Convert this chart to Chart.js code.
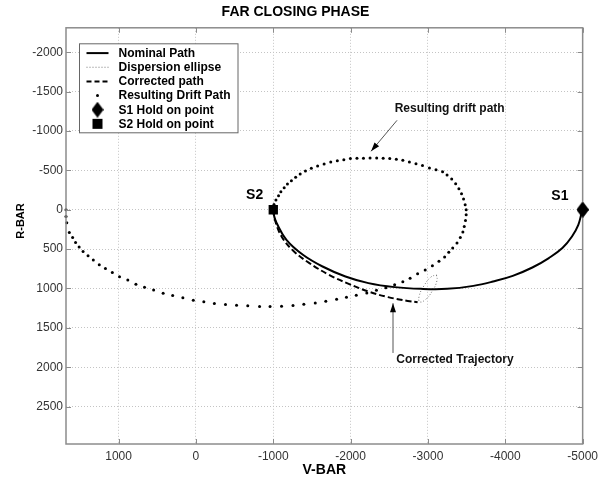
<!DOCTYPE html>
<html>
<head>
<meta charset="utf-8">
<script src="https://cdn.jsdelivr.net/npm/chart.js@4.4.0/dist/chart.umd.min.js"></script>
<style>
  html, body { margin: 0; padding: 0; background: #fff; }
</style>
</head>
<body>
<canvas id="far-canvas" width="603" height="479"></canvas>
<script>
const chartTitle = "FAR CLOSING PHASE";
const xTicks = [1000, 0, -1000, -2000, -3000, -4000, -5000];
const yTicks = [-2000, -1500, -1000, -500, 0, 500, 1000, 1500, 2000, 2500];

// nominal path S2 -> S1
const nomX = [-1000, -1010, -1043, -1170, -1383, -1637, -1933, -2230, -2569, -2909, -3247, -3587, -3841, -4096, -4350, -4563, -4738, -4862, -4944, -4986, -5000];
const nomY = [0, 76, 169, 382, 572, 721, 848, 932, 983, 1005, 1005, 967, 912, 840, 734, 614, 487, 340, 191, 42, 0];

// corrected path from S2
const corX = [-1000, -1021, -1107, -1255, -1467, -1721, -1975, -2230, -2484, -2739, -2866];
const corY = [0, 127, 340, 518, 678, 827, 941, 1039, 1110, 1158, 1174];

// dispersion ellipse (closed)
const ellX = [-3110, -3116, -3055, -2964, -2894, -2887, -2949, -3040, -3110];
const ellY = [828, 902, 1033, 1144, 1169, 1095, 965, 854, 828];

// resulting drift path dots
const driftX = [1680, 1680, 1670, 1637, 1594, 1556, 1510, 1459, 1395, 1327, 1250, 1170, 1081, 988, 881, 776, 665, 547, 424, 301,
  169, 34, -102, -238, -382, -525, -670, -823, -958, -1107, -1255, -1395, -1543, -1679, -1819, -1946, -2073, -2209, -2334, -2455,
  -2569, -2675, -2769, -2866, -2964, -3057, -3142, -3215, -3269, -3320, -3375, -3418, -3451, -3469, -3485, -3494, -3494, -3481, -3460, -3434,
  -3400, -3358, -3307, -3247, -3189, -3104, -3019, -2929, -2845, -2760, -2675, -2591, -2506, -2421, -2337, -2251, -2166, -2082, -1997, -1912,
  -1828, -1743, -1657, -1573, -1492, -1416, -1348, -1289, -1234, -1183, -1141, -1098, -1068, -1034, -1009];
const driftY = [0, 85, 165, 289, 352, 416, 474, 530, 585, 640, 700, 747, 798, 852, 894, 945, 983, 1021, 1060, 1090,
  1119, 1149, 1170, 1192, 1205, 1212, 1221, 1230, 1230, 1225, 1217, 1200, 1183, 1161, 1136, 1110, 1085, 1056, 1024, 992,
  954, 916, 869, 814, 767, 712, 653, 600, 541, 487, 424, 352, 284, 212, 136, 64, 0, -64, -136, -204,
  -267, -331, -391, -441, -483, -509, -530, -560, -585, -607, -627, -640, -649, -653, -658, -658, -653, -653, -649, -636,
  -623, -607, -581, -556, -525, -492, -454, -411, -369, -327, -280, -229, -178, -123, -67];

// hold points
const s1Point = [-5000, 0];
const s2Point = [-1000, 0];

const FONT = "'Liberation Sans', Arial, Helvetica, sans-serif";
var farChart;
var diamondImg;

function toPoints(xs, ys) {
  return xs.map((x, i) => ({ x: x, y: ys[i] }));
}

function makeDiamond() {
  const c = document.createElement('canvas');
  c.width = 12;
  c.height = 16;
  const g = c.getContext('2d');
  g.fillStyle = '#000';
  g.beginPath();
  g.moveTo(6, 0);
  g.lineTo(12, 8);
  g.lineTo(6, 16);
  g.lineTo(0, 8);
  g.closePath();
  g.fill();
  return c;
}

function line(ctx, x1, y1, x2, y2) {
  ctx.beginPath();
  ctx.moveTo(x1, y1);
  ctx.lineTo(x2, y2);
  ctx.stroke();
}

function arrow(ctx, x1, y1, x2, y2) {
  // line from (x1,y1) with head at (x2,y2)
  ctx.strokeStyle = '#555';
  ctx.lineWidth = 1;
  line(ctx, x1, y1, x2, y2);
  const a = Math.atan2(y2 - y1, x2 - x1);
  const len = 9, half = 3;
  ctx.fillStyle = '#000';
  ctx.beginPath();
  ctx.moveTo(x2, y2);
  ctx.lineTo(x2 - len * Math.cos(a) + half * Math.sin(a), y2 - len * Math.sin(a) - half * Math.cos(a));
  ctx.lineTo(x2 - len * Math.cos(a) - half * Math.sin(a), y2 - len * Math.sin(a) + half * Math.cos(a));
  ctx.closePath();
  ctx.fill();
}

const decorPlugin = {
  id: 'farDecor',
  afterDraw(chart) {
    const ctx = chart.ctx;
    const area = chart.chartArea;
    const xs = chart.scales.x;
    const ys = chart.scales.y;
    const px = v => xs.getPixelForValue(v);
    const py = v => ys.getPixelForValue(v);
    ctx.save();

    // box round the axes
    ctx.strokeStyle = '#8c8c8c';
    ctx.lineWidth = 1.5;
    ctx.setLineDash([]);
    ctx.strokeRect(area.left, area.top, area.right - area.left, area.bottom - area.top);
    ctx.lineWidth = 1;
    xTicks.forEach(v => {
      const x = Math.round(px(v)) + 0.5;
      line(ctx, x, area.bottom, x, area.bottom - 5);
      line(ctx, x, area.top, x, area.top + 5);
    });
    yTicks.forEach(v => {
      const y = Math.round(py(v)) + 0.5;
      line(ctx, area.left, y, area.left + 5, y);
      line(ctx, area.right, y, area.right - 5, y);
    });

    // hold markers again on top of the box
    const d0 = chart.getDatasetMeta(0).data[0];
    ctx.drawImage(diamondImg, d0.x - 6, d0.y - 8);

    // R-BAR title
    ctx.fillStyle = '#000';
    ctx.font = 'bold 11px ' + FONT;
    ctx.textAlign = 'center';
    ctx.textBaseline = 'middle';
    ctx.save();
    ctx.translate(21, 221);
    ctx.rotate(-Math.PI / 2);
    ctx.fillText('R-BAR', 0, 0);
    ctx.restore();

    // point labels
    ctx.font = 'bold 14px ' + FONT;
    ctx.fillText('S1', px(-4706), py(-178));
    ctx.fillText('S2', px(-759), py(-182));

    // notes with arrows
    ctx.font = 'bold 12px ' + FONT;
    ctx.fillStyle = '#111';
    ctx.fillText('Resulting drift path', px(-3281), py(-1277));
    ctx.fillText('Corrected Trajectory', px(-3349), py(1908));
    arrow(ctx, px(-2600), py(-1135), px(-2264), py(-742));
    arrow(ctx, px(-2548), py(1819), px(-2548), py(1187));

    // legend
    const lx = area.left + 13.5, ly = area.top + 16, lw = 158.5, lh = 89;
    ctx.fillStyle = '#fff';
    ctx.fillRect(lx, ly, lw, lh);
    ctx.strokeStyle = '#666';
    ctx.lineWidth = 1;
    ctx.strokeRect(lx, ly, lw, lh);
    const rowY = i => ly + 9.3 + i * 14.15;
    const sx1 = lx + 7, sx2 = lx + 29, sxm = lx + 18;
    const labels = ['Nominal Path', 'Dispersion ellipse', 'Corrected path', 'Resulting Drift Path', 'S1 Hold on point', 'S2 Hold on point'];
    ctx.strokeStyle = '#000';
    ctx.lineWidth = 2;
    line(ctx, sx1, rowY(0), sx2, rowY(0));
    ctx.strokeStyle = '#777';
    ctx.lineWidth = 1;
    ctx.setLineDash([1, 2]);
    line(ctx, sx1, rowY(1), sx2, rowY(1));
    ctx.strokeStyle = '#000';
    ctx.lineWidth = 2;
    ctx.setLineDash([5, 3]);
    line(ctx, sx1, rowY(2), sx2, rowY(2));
    ctx.setLineDash([]);
    ctx.fillStyle = '#000';
    ctx.beginPath();
    ctx.arc(sxm, rowY(3), 1.5, 0, Math.PI * 2);
    ctx.fill();
    ctx.drawImage(diamondImg, sxm - 6, rowY(4) - 8);
    ctx.fillRect(sxm - 5, rowY(5) - 5, 10, 10);
    ctx.font = 'bold 12px ' + FONT;
    ctx.textAlign = 'left';
    labels.forEach((t, i) => ctx.fillText(t, lx + 39, rowY(i) + 0.5));

    ctx.restore();
  }
};

function setFarChart() {
  var ctxFar = document.getElementById("far-canvas");
  return new Chart(ctxFar, {
    type: 'scatter',
    data: {
      datasets: [
        {
          label: "S1 Hold on point",
          data: [{ x: s1Point[0], y: s1Point[1] }],
          pointStyle: diamondImg,
          pointRadius: 8,
          showLine: false,
          clip: false
        },
        {
          label: "S2 Hold on point",
          data: [{ x: s2Point[0], y: s2Point[1] }],
          pointStyle: 'rect',
          pointRadius: 6.6,
          pointBackgroundColor: '#000',
          pointBorderColor: '#000',
          pointBorderWidth: 0,
          showLine: false
        },
        {
          label: "Nominal Path",
          data: toPoints(nomX, nomY),
          showLine: true,
          borderColor: '#000',
          borderWidth: 2,
          pointRadius: 0,
          tension: 0.4
        },
        {
          label: "Corrected path",
          data: toPoints(corX, corY),
          showLine: true,
          borderColor: '#000',
          borderWidth: 2,
          borderDash: [6, 3],
          pointRadius: 0,
          tension: 0.4
        },
        {
          label: "Dispersion ellipse",
          data: toPoints(ellX, ellY),
          showLine: true,
          borderColor: '#777',
          borderWidth: 1,
          borderDash: [1, 2],
          pointRadius: 0,
          tension: 0.5
        },
        {
          label: "Resulting Drift Path",
          data: toPoints(driftX, driftY),
          showLine: false,
          pointRadius: 1.5,
          pointBackgroundColor: '#000',
          pointBorderWidth: 0,
          clip: false
        }
      ]
    },
    options: {
      responsive: false,
      animation: false,
      layout: { padding: { left: 0, right: 12, top: 0, bottom: 0 } },
      plugins: {
        legend: { display: false },
        tooltip: { enabled: false },
        title: {
          display: true,
          text: chartTitle,
          color: '#000',
          font: { family: FONT, size: 14, weight: 'bold' },
          padding: { top: 4, bottom: 7 }
        }
      },
      scales: {
        x: {
          type: 'linear',
          min: -5000,
          max: 1680,
          reverse: true,
          afterBuildTicks: s => { s.ticks = xTicks.map(v => ({ value: v })); },
          afterFit: s => { s.height = 35; },
          ticks: {
            callback: v => String(v),
            color: '#333',
            font: { family: FONT, size: 12 },
            padding: 5,
            maxRotation: 0
          },
          grid: { color: '#c4c4c4', lineWidth: 1, drawTicks: false },
          border: { display: false, dash: [1, 2] },
          title: {
            display: true,
            text: 'V-BAR',
            color: '#000',
            font: { family: FONT, size: 14, weight: 'bold' },
            padding: { top: 0, bottom: 0 }
          }
        },
        y: {
          type: 'linear',
          min: -2310,
          max: 2975,
          reverse: true,
          afterBuildTicks: s => { s.ticks = yTicks.map(v => ({ value: v })); },
          afterFit: s => { s.width = 66; },
          ticks: {
            callback: v => String(v),
            color: '#333',
            font: { family: FONT, size: 12 },
            padding: 3
          },
          grid: { color: '#c4c4c4', lineWidth: 1, drawTicks: false },
          border: { display: false, dash: [1, 2] }
        }
      }
    },
    plugins: [decorPlugin]
  });
}

diamondImg = makeDiamond();
farChart = setFarChart();
</script>
</body>
</html>
